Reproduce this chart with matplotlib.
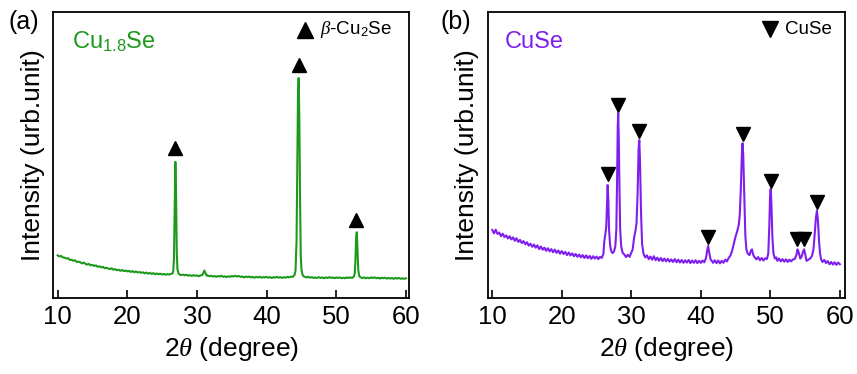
import numpy as np
import matplotlib.pyplot as plt

plt.rcParams['font.family'] = ['Liberation Sans', 'DejaVu Sans']
plt.rcParams['mathtext.fontset'] = 'custom'
plt.rcParams['mathtext.rm'] = 'Liberation Sans'
plt.rcParams['mathtext.it'] = 'Liberation Serif:italic'

# (a) Cu1.8Se pattern (2theta, intensity in arb. units)
tth_a = [10.00, 10.25, 10.50, 10.75, 11.00, 11.25, 11.50, 11.75, 12.00, 12.25, 12.50, 12.75,
         13.00, 13.25, 13.50, 13.75, 14.00, 14.25, 14.50, 14.75, 15.00, 15.25, 15.50, 15.75,
         16.00, 16.25, 16.50, 16.75, 17.00, 17.25, 17.50, 17.75, 18.00, 18.25, 18.50, 18.75,
         19.00, 19.25, 19.50, 19.75, 20.00, 20.25, 20.50, 20.75, 21.00, 21.25, 21.50, 21.75,
         22.00, 22.25, 22.50, 22.75, 23.00, 23.25, 23.50, 23.75, 24.00, 24.25, 24.50, 24.75,
         25.00, 25.25, 25.50, 25.75, 26.00, 26.25, 26.50, 26.60, 26.70, 26.80, 26.90, 27.00,
         27.10, 27.20, 27.35, 27.50, 27.75, 28.00, 28.25, 28.50, 28.75, 29.00, 29.25, 29.50,
         29.75, 30.00, 30.25, 30.50, 30.75, 30.90, 31.05, 31.20, 31.40, 31.50, 31.75, 32.00,
         32.25, 32.50, 32.75, 33.00, 33.25, 33.50, 33.75, 34.00, 34.25, 34.50, 34.75, 35.00,
         35.25, 35.50, 35.75, 36.00, 36.25, 36.50, 36.75, 37.00, 37.25, 37.50, 37.75, 38.00,
         38.25, 38.50, 38.75, 39.00, 39.25, 39.50, 39.75, 40.00, 40.25, 40.50, 40.75, 41.00,
         41.25, 41.50, 41.75, 42.00, 42.25, 42.50, 42.75, 43.00, 43.25, 43.50, 43.75, 44.00,
         44.15, 44.30, 44.40, 44.50, 44.60, 44.70, 44.80, 44.90, 45.00, 45.15, 45.30, 45.50,
         45.75, 46.00, 46.25, 46.50, 46.75, 47.00, 47.25, 47.50, 47.75, 48.00, 48.25, 48.50,
         48.75, 49.00, 49.25, 49.50, 49.75, 50.00, 50.25, 50.50, 50.75, 51.00, 51.25, 51.50,
         51.75, 52.00, 52.25, 52.50, 52.65, 52.75, 52.85, 52.95, 53.05, 53.15, 53.30, 53.50,
         53.75, 54.00, 54.25, 54.50, 54.75, 55.00, 55.25, 55.50, 55.75, 56.00, 56.25, 56.50,
         56.75, 57.00, 57.25, 57.50, 57.75, 58.00, 58.25, 58.50, 58.75, 59.00, 59.25, 59.50,
         59.75, 60.00]
int_a = [14.9, 14.5, 14.7, 14.2, 14.1, 13.8, 13.9, 13.3, 13.4, 13.0, 13.2, 12.6,
         12.7, 12.5, 12.1, 12.4, 11.9, 11.7, 11.9, 11.4, 11.6, 11.2, 11.4, 10.9,
         11.1, 10.7, 10.9, 10.4, 10.6, 10.3, 10.1, 10.4, 9.9, 10.1, 9.7, 9.9,
         9.5, 9.8, 9.4, 9.6, 9.3, 9.5, 9.1, 9.4, 9.0, 9.3, 8.9, 9.1,
         8.8, 9.0, 8.6, 8.9, 8.5, 8.8, 8.4, 8.7, 8.3, 8.6, 8.3, 8.5,
         8.2, 8.4, 8.1, 8.4, 8.2, 8.4, 8.6, 9.5, 14.0, 30.0, 47.6, 36.0,
         16.0, 10.0, 8.6, 8.2, 8.0, 8.2, 7.9, 8.1, 7.8, 8.0, 7.7, 8.0,
         7.8, 7.9, 7.6, 7.9, 8.0, 8.6, 9.6, 8.8, 7.8, 7.9, 7.6, 7.8,
         7.5, 7.7, 7.4, 7.7, 7.5, 7.8, 7.4, 7.6, 7.3, 7.6, 7.4, 7.7,
         7.5, 7.8, 7.5, 7.7, 7.4, 7.5, 7.2, 7.5, 7.3, 7.5, 7.2, 7.4,
         7.1, 7.4, 7.2, 7.4, 7.1, 7.3, 7.2, 7.4, 7.1, 7.3, 7.0, 7.3,
         7.1, 7.4, 7.1, 7.3, 7.0, 7.3, 7.1, 7.4, 7.2, 7.5, 7.4, 8.0,
         9.5, 20.0, 45.0, 70.0, 76.9, 62.0, 35.0, 15.0, 10.0, 8.2, 7.6, 7.4,
         7.2, 7.4, 7.1, 7.3, 7.0, 7.2, 7.0, 7.3, 7.0, 7.2, 6.9, 7.2,
         7.0, 7.3, 7.0, 7.2, 6.9, 7.2, 7.0, 7.2, 6.9, 7.1, 6.9, 7.2,
         7.0, 7.2, 7.0, 7.4, 8.5, 13.0, 21.0, 23.0, 17.0, 10.0, 7.6, 7.2,
         7.0, 7.2, 6.9, 7.1, 6.9, 7.2, 7.0, 7.2, 6.9, 7.1, 6.8, 7.1,
         6.9, 7.1, 6.8, 7.0, 6.8, 7.0, 6.7, 7.0, 6.8, 7.0, 6.7, 6.9,
         6.7, 6.9]
peaks_a_x = [26.9, 44.6, 52.9]
peaks_a_y = [52.4, 81.5, 27.3]

# (b) CuSe pattern
tth_b = [10.00, 10.25, 10.50, 10.75, 11.00, 11.25, 11.50, 11.75, 12.00, 12.25, 12.50, 12.75,
         13.00, 13.25, 13.50, 13.75, 14.00, 14.25, 14.50, 14.75, 15.00, 15.25, 15.50, 15.75,
         16.00, 16.25, 16.50, 16.75, 17.00, 17.25, 17.50, 17.75, 18.00, 18.25, 18.50, 18.75,
         19.00, 19.25, 19.50, 19.75, 20.00, 20.25, 20.50, 20.75, 21.00, 21.25, 21.50, 21.75,
         22.00, 22.25, 22.50, 22.75, 23.00, 23.25, 23.50, 23.75, 24.00, 24.25, 24.50, 24.75,
         25.00, 25.25, 25.50, 25.75, 26.00, 26.10, 26.25, 26.40, 26.50, 26.60, 26.70, 26.80,
         26.95, 27.10, 27.30, 27.50, 27.70, 27.85, 27.95, 28.05, 28.12, 28.20, 28.30, 28.40,
         28.55, 28.75, 29.00, 29.25, 29.50, 29.75, 30.00, 30.20, 30.40, 30.60, 30.75, 30.90,
         31.05, 31.15, 31.25, 31.40, 31.55, 31.75, 32.00, 32.25, 32.50, 32.75, 33.00, 33.25,
         33.50, 33.75, 34.00, 34.25, 34.50, 34.75, 35.00, 35.25, 35.50, 35.75, 36.00, 36.25,
         36.50, 36.75, 37.00, 37.25, 37.50, 37.75, 38.00, 38.25, 38.50, 38.75, 39.00, 39.25,
         39.50, 39.75, 40.00, 40.25, 40.50, 40.75, 40.90, 41.05, 41.20, 41.40, 41.60, 41.75,
         42.00, 42.25, 42.50, 42.75, 43.00, 43.25, 43.50, 43.75, 44.00, 44.25, 44.50, 44.75,
         45.00, 45.25, 45.45, 45.60, 45.75, 45.90, 46.00, 46.10, 46.25, 46.40, 46.55, 46.75,
         47.00, 47.20, 47.35, 47.55, 47.75, 48.00, 48.25, 48.50, 48.75, 49.00, 49.25, 49.50,
         49.70, 49.85, 49.95, 50.05, 50.15, 50.30, 50.45, 50.65, 50.85, 51.00, 51.25, 51.50,
         51.75, 52.00, 52.25, 52.50, 52.75, 53.00, 53.25, 53.50, 53.75, 53.90, 54.05, 54.30,
         54.50, 54.70, 54.85, 55.00, 55.20, 55.40, 55.60, 55.80, 56.00, 56.20, 56.40, 56.55,
         56.70, 56.85, 57.00, 57.15, 57.30, 57.50, 57.75, 58.00, 58.25, 58.50, 58.75, 59.00,
         59.25, 59.50, 59.75, 60.00]
int_b = [23.8, 22.6, 23.9, 22.4, 22.9, 21.6, 22.5, 21.3, 21.9, 20.8, 21.6, 20.5,
         21.2, 20.0, 20.9, 19.6, 20.3, 19.2, 19.9, 18.8, 19.5, 18.3, 19.0, 17.9,
         18.7, 17.6, 18.4, 17.1, 18.0, 16.9, 17.6, 16.5, 17.4, 16.3, 17.1, 16.0,
         16.9, 15.8, 16.6, 15.5, 16.4, 15.4, 16.1, 15.0, 15.9, 14.9, 15.6, 14.6,
         15.4, 14.4, 15.2, 14.2, 15.0, 14.0, 14.9, 13.9, 14.7, 13.7, 14.6, 13.8,
         14.5, 13.6, 14.4, 14.0, 15.5, 19.5, 22.0, 25.0, 32.0, 39.5, 34.0, 24.0,
         18.5, 16.5, 15.7, 16.2, 18.0, 24.0, 40.0, 60.0, 64.6, 56.0, 38.0, 24.0,
         18.0, 15.8, 15.2, 14.3, 15.1, 14.4, 15.8, 17.0, 21.0, 23.5, 26.0, 36.0,
         52.0, 55.2, 48.0, 30.0, 19.0, 15.5, 14.2, 14.9, 13.6, 14.5, 13.4, 14.6,
         13.2, 14.1, 13.0, 14.0, 12.9, 13.8, 12.8, 13.7, 12.7, 13.5, 12.6, 13.6,
         12.5, 13.4, 12.4, 13.3, 12.3, 13.2, 12.4, 13.3, 12.2, 13.1, 12.3, 13.2,
         12.2, 13.0, 12.3, 13.1, 12.5, 14.0, 16.5, 18.2, 16.0, 13.5, 12.9, 12.3,
         13.2, 12.2, 13.1, 12.1, 13.0, 12.3, 13.4, 12.8, 14.0, 14.8, 16.5, 19.0,
         21.5, 23.5, 25.5, 29.0, 38.0, 50.0, 54.1, 50.0, 36.0, 22.0, 17.0, 15.5,
         15.0, 16.5, 17.0, 15.0, 14.2, 13.5, 14.3, 13.2, 14.0, 13.1, 13.9, 13.6,
         15.5, 25.0, 35.0, 38.1, 33.0, 21.0, 15.5, 13.8, 14.2, 13.0, 13.8, 12.8,
         13.6, 12.7, 13.5, 12.6, 13.4, 12.8, 13.5, 13.6, 15.0, 17.0, 16.2, 13.8,
         14.5, 16.2, 17.0, 15.5, 13.0, 13.3, 13.6, 14.0, 14.8, 17.0, 23.0, 28.0,
         30.5, 27.0, 20.0, 15.5, 13.5, 12.6, 13.3, 12.2, 12.9, 11.8, 12.6, 11.7,
         12.5, 11.6, 12.4, 11.8]
peaks_b_x = [26.6, 28.1, 31.1, 41.1, 46.0, 50.05, 53.9, 54.8, 56.7]
peaks_b_y = [43.3, 67.5, 58.4, 21.3, 57.3, 41.0, 20.6, 20.6, 33.5]

green = '#1c9a1c'
purple = '#7f1fee'

fig = plt.figure(figsize=(8.57, 3.74), dpi=100)
ax1 = fig.add_axes([0.0624, 0.2032, 0.4149, 0.7648])
ax2 = fig.add_axes([0.5691, 0.2032, 0.4166, 0.7648])

for ax in (ax1, ax2):
    ax.set_ylim(0, 100)
    ax.set_yticks([])
    ax.set_xticks([10, 20, 30, 40, 50, 60])
    ax.tick_params(axis='x', direction='in', length=6, width=1.2, labelsize=18.5, pad=5)
    for s in ax.spines.values():
        s.set_linewidth(1.3)
    ax.set_xlabel(r'2$\mathit{\theta}$ (degree)', fontsize=19, labelpad=4)
    ax.set_ylabel('Intensity (urb.unit)', fontsize=19, labelpad=6)

ax1.set_xlim(9.4, 60.45)
ax2.set_xlim(9.35, 60.7)

ax1.plot(tth_a, int_a, color=green, lw=1.5)
ax1.plot(peaks_a_x, peaks_a_y, '^', color='black', ms=10.5, ls='none')
ax1.text(0.051, 0.896, r'Cu$_{1.8}$Se', color=green, fontsize=17,
         transform=ax1.transAxes, va='center')
ax1.plot([0.707], [0.937], '^', color='black', ms=12, transform=ax1.transAxes)
ax1.text(0.75, 0.937, r'$\mathit{\beta}$-Cu$_2$Se', fontsize=13.5,
         transform=ax1.transAxes, va='center')

ax2.plot(tth_b, int_b, color=purple, lw=1.5)
ax2.plot(peaks_b_x, peaks_b_y, 'v', color='black', ms=10.5, ls='none')
ax2.text(0.048, 0.896, 'CuSe', color=purple, fontsize=17,
         transform=ax2.transAxes, va='center')
ax2.plot([0.79], [0.94], 'v', color='black', ms=12, transform=ax2.transAxes)
ax2.text(0.833, 0.94, 'CuSe', fontsize=13.5, transform=ax2.transAxes, va='center')

fig.text(0.010, 0.942, '(a)', fontsize=18, va='center')
fig.text(0.514, 0.942, '(b)', fontsize=18, va='center')

fig.savefig('out.png', dpi=100)
